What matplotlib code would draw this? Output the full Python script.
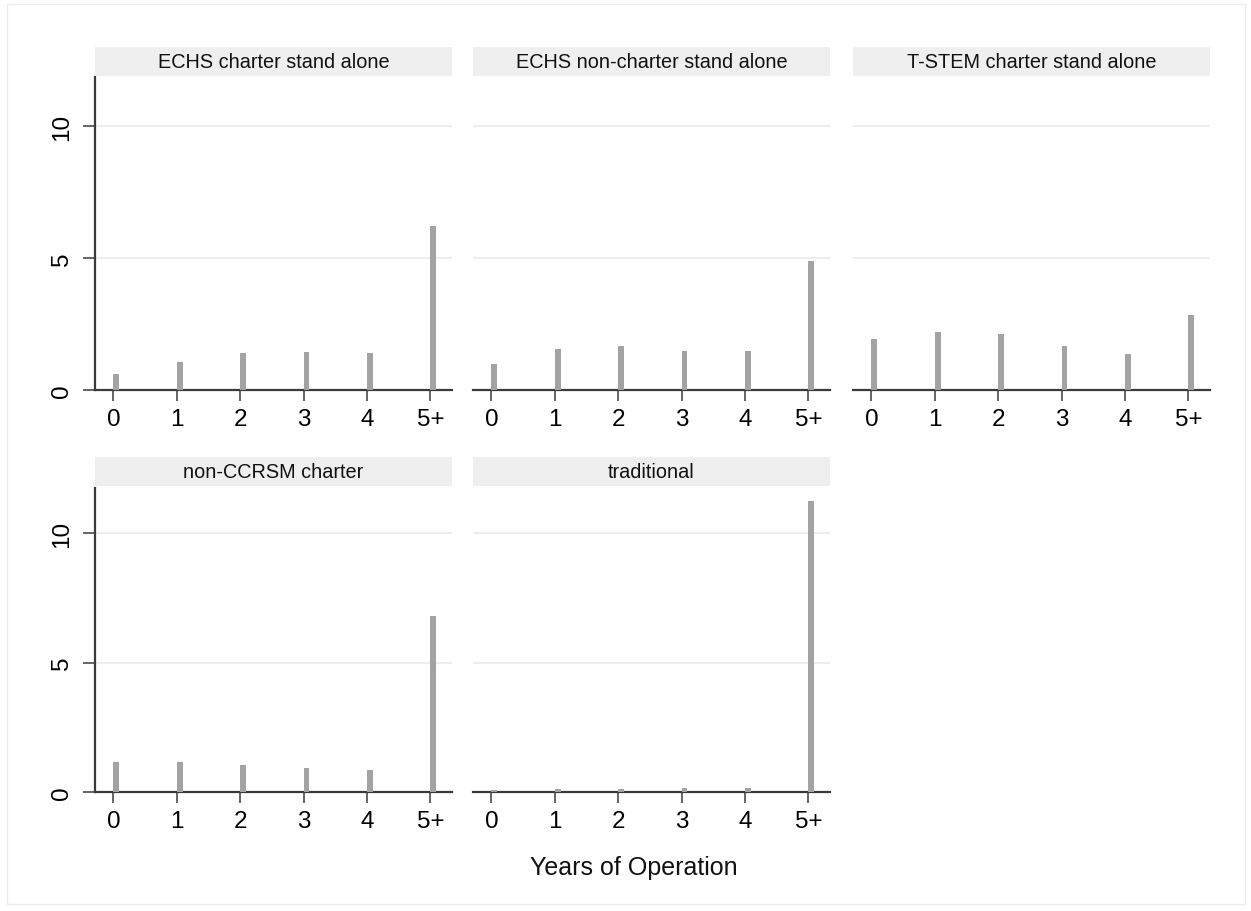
import matplotlib
matplotlib.use("Agg")
import matplotlib.pyplot as plt
from matplotlib.patches import Rectangle

plt.rcParams['font.family'] = ['Liberation Sans', 'DejaVu Sans']

categories = ["0", "1", "2", "3", "4", "5+"]
panel_titles = ["ECHS charter stand alone", "ECHS non-charter stand alone",
                "T-STEM charter stand alone", "non-CCRSM charter", "traditional"]
echs_charter = [0.60, 1.05, 1.40, 1.44, 1.39, 6.23]
echs_noncharter = [0.98, 1.56, 1.68, 1.49, 1.46, 4.90]
tstem_charter = [1.93, 2.18, 2.13, 1.65, 1.37, 2.84]
non_ccrsm = [1.14, 1.14, 1.05, 0.92, 0.85, 6.78]
traditional = [0.09, 0.11, 0.13, 0.15, 0.16, 11.25]
series = [echs_charter, echs_noncharter, tstem_charter, non_ccrsm, traditional]
yticks = [0, 5, 10]
xlabel = "Years of Operation"

W, H = 1251, 912
fig = plt.figure(figsize=(W / 100, H / 100), dpi=100)
fig.patch.set_facecolor('white')

# faint outer border
fig.add_artist(Rectangle((7 / W, 1 - 905 / H), (1245 - 7) / W, (905 - 5) / H,
                         transform=fig.transFigure, fill=False,
                         edgecolor='#ececec', linewidth=1))

col_left = [95, 473, 853]
col_w = 357
rows = [(78, 391, 48, 77, 11.86), (489, 793, 458, 487, 11.74)]

bar_color = '#a3a3a3'
axis_color = '#3a3a3a'

for i, (title, vals) in enumerate(zip(panel_titles, series)):
    r, c = divmod(i, 3)
    top, bot, stop, sbot, ymax = rows[r]
    x0 = col_left[c]
    ax = fig.add_axes([x0 / W, 1 - bot / H, col_w / W, (bot - top) / H])
    xs = list(range(len(categories)))
    ax.bar(xs, vals, width=0.09, align='edge', color=bar_color, zorder=3,
           linewidth=0)
    ax.set_xlim(-0.29, 5.34)
    ax.set_ylim(0, ymax)
    ax.set_xticks(xs)
    ax.set_xticklabels(categories, fontsize=17.5)
    ax.set_yticks(yticks)
    for y in yticks[1:]:
        ax.axhline(y, color='#ededed', linewidth=1.5, zorder=1)
    for s in ['top', 'right']:
        ax.spines[s].set_visible(False)
    ax.spines['bottom'].set_color(axis_color)
    ax.spines['bottom'].set_linewidth(1.6)
    ax.tick_params(axis='x', length=8, width=1.1, color=axis_color, pad=5,
                   labelcolor='black')
    if c == 0:
        ax.spines['left'].set_color(axis_color)
        ax.spines['left'].set_linewidth(1.6)
        ax.set_yticklabels([str(t) for t in yticks], fontsize=17.5,
                           rotation=90, va='center')
        ax.tick_params(axis='y', length=9, width=1.1, color=axis_color, pad=7)
    else:
        ax.spines['left'].set_visible(False)
        ax.tick_params(axis='y', left=False, labelleft=False)
    ax.set_facecolor('none')

    sax = fig.add_axes([x0 / W, 1 - sbot / H, col_w / W, (sbot - stop) / H])
    sax.set_facecolor('#efefef')
    for s in sax.spines.values():
        s.set_visible(False)
    sax.set_xticks([])
    sax.set_yticks([])
    sax.text(0.5, 0.5, title, ha='center', va='center', fontsize=14.3,
             color='#111111', transform=sax.transAxes)

fig.text(634 / W, 1 - 868 / H, xlabel, ha='center', va='center', fontsize=18,
         color='#111111')

fig.savefig('out.png', dpi=100, facecolor='white')
